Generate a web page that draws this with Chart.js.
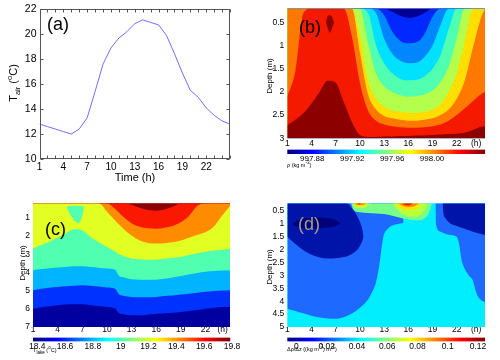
<!DOCTYPE html>
<html><head><meta charset="utf-8">
<script src="https://cdn.jsdelivr.net/npm/chart.js@4.4.0/dist/chart.umd.min.js"></script>
<style>
html,body{margin:0;padding:0;background:#fff;}
#wrap{position:relative;width:500px;height:360px;overflow:hidden;font-family:"Liberation Sans",Arial,sans-serif;}
canvas{position:absolute;left:0;top:0;}
.t{position:absolute;white-space:nowrap;color:#000;line-height:1;}
.r{transform:translate(-50%,-50%) rotate(-90deg);}
sub,sup{line-height:0;}
</style></head><body><div id="wrap">
<canvas id="ca" width="500" height="360"></canvas>
<canvas id="cb" width="500" height="360"></canvas>
<canvas id="cc" width="500" height="360"></canvas>
<canvas id="cd" width="500" height="360"></canvas>
<canvas id="kb" width="500" height="360"></canvas>
<canvas id="kc" width="500" height="360"></canvas>
<canvas id="kd" width="500" height="360"></canvas>

<div class="t" style="left:47px;top:15px;font-size:18px">(a)</div>
<div class="t" style="left:299px;top:18px;font-size:18px">(b)</div>
<div class="t" style="left:45px;top:220px;font-size:18px">(c)</div>
<div class="t" style="left:298px;top:215px;font-size:18px;color:#a39c86">(d)</div>

<div class="t" style="left:135px;top:177px;font-size:11px;transform:translate(-50%,-50%)">Time (h)</div>
<div class="t r" style="left:13px;top:83px;font-size:11px">T<sub style="font-size:7.5px">air</sub> (<sup style="font-size:7.5px">o</sup>C)</div>
<div class="t r" style="left:270px;top:76px;font-size:8px">Depth (m)</div>
<div class="t r" style="left:23px;top:263px;font-size:8px">Depth (m)</div>
<div class="t r" style="left:270px;top:267px;font-size:8px">Depth (m)</div>

<div class="t" style="left:287px;top:163px;font-size:5.5px">ρ (kg m<sup>-3</sup>)</div>
<div class="t" style="left:33px;top:348px;font-size:5.5px">T<sub>lake</sub> (<sup>o</sup>C)</div>
<div class="t" style="left:287px;top:347px;font-size:5.5px">Δρ/Δz ((kg m<sup>-3</sup>) m<sup>-1</sup>)</div>
</div>
<script>
// ================= DATA =================
// (a) air temperature
const hoursA = [1,2,3,4,5,6,7,8,9,10,11,12,13,14,15,16,17,18,19,20,21,22,23,24,25];
const airTemp = [12.8,12.6,12.4,12.2,12.0,12.4,13.3,15.4,17.6,18.9,19.7,20.2,20.85,21.15,20.95,20.75,19.9,18.45,16.9,15.5,14.95,14.1,13.5,13.05,12.8];

// (b) density: depth (m) of each colour-band boundary per hour
const hoursB = [1,2,3,4,5,6,7,8,9,10,11,12,13,14,15,16,17,18,19,20,21,22,23,24,25,25.5];
const rhoB1 = [0.2,0.2,0.2,0.2,0.2,0.2,0.2,0.2,0.2,0.2,0.2,0.2,0.2,0.27,0.36,0.4,0.38,0.3,0.2,0.2,0.2,0.2,0.2,0.2,0.2,0.2];
const rhoB2 = [0.2,0.2,0.2,0.2,0.2,0.2,0.2,0.2,0.2,0.2,0.2,0.2,0.35,0.7,0.9,0.95,0.93,0.75,0.38,0.2,0.2,0.2,0.2,0.2,0.2,0.2];
const rhoB3 = [0.2,0.2,0.2,0.2,0.2,0.2,0.2,0.2,0.2,0.2,0.2,0.3,0.85,1.18,1.33,1.38,1.37,1.25,1.0,0.55,0.2,0.2,0.2,0.2,0.2,0.2];
const rhoB4 = [0.2,0.2,0.2,0.2,0.2,0.2,0.2,0.2,0.2,0.2,0.3,1.0,1.38,1.6,1.72,1.75,1.74,1.66,1.5,1.2,0.65,0.2,0.2,0.2,0.2,0.2];
const rhoB5 = [0.2,0.2,0.2,0.2,0.2,0.2,0.2,0.2,0.2,0.2,0.95,1.6,1.88,2.0,2.07,2.1,2.09,2.05,1.97,1.78,1.45,0.85,0.2,0.2,0.2,0.2];
const rhoB6 = [0.2,0.2,0.2,0.2,0.2,0.2,0.2,0.2,0.2,0.8,1.75,2.15,2.32,2.4,2.43,2.45,2.45,2.43,2.38,2.26,2.0,1.6,0.9,0.2,0.2,0.2];
const rhoB7 = [0.2,0.2,0.2,0.2,0.2,0.2,0.2,0.2,0.2,1.15,2.05,2.38,2.52,2.57,2.6,2.62,2.62,2.6,2.57,2.5,2.38,2.15,1.75,1.05,0.4,0.2];
const rhoB8 = [2.1,1.55,0.3,0.2,0.2,0.2,0.2,0.2,0.8,1.8,2.4,2.62,2.7,2.74,2.76,2.77,2.77,2.76,2.74,2.7,2.62,2.5,2.35,2.2,2.05,2.0];
const rhoB9 = [2.72,2.6,2.46,2.25,2.0,1.76,1.8,2.22,2.65,2.93,2.97,2.97,2.96,2.96,2.95,2.95,2.94,2.94,2.93,2.92,2.91,2.9,2.88,2.82,2.75,2.74];
const blobBHours = [5.8,6.0,6.3,6.6,6.8];
const blobBTop = [0.5,0.37,0.35,0.4,0.5];
const blobBBottom = [0.5,0.62,0.72,0.6,0.5];

// (c) lake temperature band boundaries (depth, m)
const hoursC = [1,2,3,4,5,6,7,8,9,10,11,11.5,12,13,14,15,16,17,18,19,20,21,22,23,24,25];
const tempC1 = [0.2,0.2,0.2,0.2,0.2,0.2,0.2,0.2,0.2,0.2,0.2,0.2,0.2,0.28,0.45,0.57,0.61,0.55,0.4,0.2,0.2,0.2,0.2,0.2,0.2,0.2];
const tempC2 = [0.2,0.2,0.2,0.2,0.2,0.2,0.2,0.2,0.2,0.2,0.5,0.72,0.95,1.3,1.5,1.58,1.6,1.55,1.45,1.25,0.9,0.35,0.2,0.2,0.2,0.2];
const tempC3 = [0.2,0.2,0.2,0.2,0.2,0.2,0.2,0.2,0.2,0.65,1.15,1.38,1.6,1.98,2.25,2.38,2.42,2.4,2.35,2.25,2.1,1.95,1.8,1.5,0.9,0.35];
const tempC4 = [2.69,2.5,2.32,2.1,1.86,1.63,1.68,2.05,2.35,2.6,2.85,3.0,3.1,3.24,3.28,3.3,3.3,3.25,3.2,3.15,3.05,2.95,2.87,2.8,2.75,2.72];
const tempC5 = [3.88,3.82,3.77,3.73,3.7,3.67,3.66,3.7,3.74,3.79,3.85,4.2,4.27,4.38,4.4,4.4,4.4,4.35,4.28,4.2,4.12,4.04,3.97,3.93,3.9,3.88];
const tempC6 = [4.98,4.9,4.84,4.8,4.76,4.73,4.7,4.73,4.78,4.83,4.9,5.22,5.28,5.35,5.37,5.37,5.35,5.3,5.27,5.22,5.17,5.12,5.07,5.02,5.0,4.98];
const tempC7 = [6.0,5.92,5.86,5.8,5.77,5.75,5.75,5.8,5.85,5.9,5.98,6.25,6.3,6.36,6.36,6.33,6.27,6.25,6.22,6.17,6.12,6.07,6.0,5.95,5.9,5.9];
const blobCHours = [5.1,5.4,5.8,6.2,6.5,6.8,7.1,7.2];
const blobCTop = [0.4,0.36,0.36,0.36,0.36,0.36,0.37,0.4];
const blobCBottom = [0.4,0.7,1.0,1.22,1.3,1.15,0.7,0.4];

// (d) stratification regions (depth, m)
const hoursDL = [1,2,3,4,5,6,7,8,9,10,11,11.5,12,12.4,12.7,12.9,13.3,14,15,15.4];
const gradBlueLeft = [4.29,4.38,4.47,4.56,4.63,4.67,4.68,4.62,4.48,4.25,3.93,3.65,3.25,2.6,1.9,1.5,1.24,1.06,0.98,0.95];
const hoursDR = [19.35,19.45,20,21,22,22.3,22.6,23,23.5,24,24.3,24.7,25.5];
const gradBlueRight = [0.2,1.05,1.3,1.42,1.5,1.8,2.4,2.75,3.0,3.2,3.55,3.85,4.05];
const hoursNL = [1,2,3,4,5,6,7,8,8.4,9,9.5,9.8,10.1,10.3,10.45];
const gradNavyTop = [0.2,0.2,0.2,0.2,0.2,0.2,0.2,0.2,0.2,0.4,0.6,0.78,1.0,1.2,1.5];
const gradNavyBottom = [1.5,1.78,2.02,2.2,2.3,2.34,2.33,2.28,2.25,2.17,2.05,1.95,1.8,1.65,1.5];
const hoursNC = [1.6,2.2,3,4,5,6,7,7.6];
const gradCoreTop = [1.0,0.88,0.8,0.76,0.75,0.78,0.86,0.98];
const gradCoreBottom = [1.0,1.1,1.16,1.18,1.17,1.14,1.08,0.98];
const hoursNR = [20.25,20.35,20.6,21.2,22,22.8,24,25.5];
const gradNavyRight = [0.2,0.6,0.78,0.98,1.08,1.17,1.3,1.43];
const hoursG = [8.9,9.2,10,11,12,13,14,15,16,17,18,18.6,18.9];
const gradGreen = [0.2,0.45,0.55,0.58,0.6,0.62,0.68,0.76,0.83,0.86,0.78,0.55,0.2];
const hoursYG1 = [9.1,9.5,10.5,11.3];   const gradYG1 = [0.2,0.38,0.38,0.2];
const hoursYG2 = [14.0,15,16,17,17.8,18.4]; const gradYG2 = [0.2,0.55,0.7,0.72,0.55,0.2];
const hoursY1 = [9.2,9.6,10.4,11.0];    const gradY1 = [0.2,0.3,0.3,0.2];
const hoursY2 = [14.4,15,16,17,17.6];   const gradY2 = [0.2,0.38,0.45,0.4,0.2];
const hoursO1 = [9.3,9.7,10.3,10.8];    const gradO1 = [0.2,0.27,0.27,0.2];
const hoursO2 = [14.8,15.3,16,16.8,17.3]; const gradO2 = [0.2,0.3,0.34,0.3,0.2];
const hoursR1 = [9.6,9.9,10.2];         const gradR1 = [0.2,0.24,0.2];
const hoursR2 = [15.2,15.6,16.1,16.6];  const gradR2 = [0.2,0.27,0.28,0.2];

// ticks
const timeTicks = [1,4,7,10,13,16,19,22];
const tempTicksA = [10,12,14,16,18,20,22];
const depthTicksB = [0.5,1,1.5,2,2.5,3];
const depthTicksC = [1,2,3,4,5,6,7];
const depthTicksD = [0.5,1,1.5,2,2.5,3,3.5,4,4.5,5];
const cbRangeB = [997.855, 998.053];
const cbTicksB = [997.88, 997.92, 997.96, 998.00];
const cbLabelsB = ['997.88','997.92','997.96','998.00'];
const cbRangeC = [18.37, 19.785];
const cbTicksC = [18.4,18.6,18.8,19.0,19.2,19.4,19.6,19.8];
const cbLabelsC = ['18.4','18.6','18.8','19','19.2','19.4','19.6','19.8'];
const cbRangeD = [-0.006, 0.1246];
const cbTicksD = [0,0.02,0.04,0.06,0.08,0.10,0.12];
const cbLabelsD = ['0','0.02','0.04','0.06','0.08','0.1','0.12'];

// ================= STYLE / HELPERS =================
const W = 500, H = 360;
Chart.defaults.font.family = '"Liberation Sans", Arial, sans-serif';
Chart.defaults.color = '#000';
function jet(t){const c=v=>Math.round(255*Math.max(0,Math.min(1,v)));return `rgb(${c(1.5-Math.abs(4*t-3))},${c(1.5-Math.abs(4*t-2))},${c(1.5-Math.abs(4*t-1))})`;}
const pts = (xs, ys) => xs.map((x,i)=>({x, y: ys[i]}));
const noGrid = {display:false, drawTicks:false};

const areaBg = { id:'areaBg', beforeDatasetsDraw(chart, args, opts){ if(!opts||!opts.color) return; const {ctx, chartArea:a}=chart; ctx.save(); ctx.fillStyle=opts.color; ctx.fillRect(a.left,a.top,a.right-a.left,a.bottom-a.top); ctx.restore(); } };
const frame = { id:'frame', afterDatasetsDraw(chart, args, opts){ if(!opts||!opts.on) return; const {ctx, chartArea:a, scales}=chart; ctx.save(); ctx.strokeStyle=opts.color; ctx.lineWidth=1;
  const L=Math.round(a.left)+0.5, R=Math.round(a.right)-0.5, T=Math.round(a.top)+0.5, B=Math.round(a.bottom)-0.5;
  ctx.strokeRect(L,T,R-L,B-T); ctx.beginPath();
  scales.x.ticks.forEach(t=>{const p=Math.round(scales.x.getPixelForValue(t.value))+0.5; ctx.moveTo(p,B); ctx.lineTo(p,B-opts.len); ctx.moveTo(p,T); ctx.lineTo(p,T+opts.len);});
  scales.y.ticks.forEach(t=>{const p=Math.round(scales.y.getPixelForValue(t.value))+0.5; ctx.moveTo(L,p); ctx.lineTo(L+opts.len,p); ctx.moveTo(R,p); ctx.lineTo(R-opts.len,p);});
  ctx.stroke(); ctx.restore(); } };

function pad(rect, yW, xH){ return {left: rect.l - yW, right: W - rect.r, top: rect.t, bottom: H - rect.b - xH}; }

// layer builders
function layers(){ const ds=[]; let layer=0;
  return { ds,
    toBottom(xs,ys,color){ ds.push({data:pts(xs,ys), fill:'start', backgroundColor:color, _l:layer++}); },
    toTop(xs,ys,color){ ds.push({data:pts(xs,ys), fill:'end', backgroundColor:color, _l:layer++}); },
    between(xs,top,bot,color){ ds.push({data:pts(xs,top), fill:false, _l:layer}); ds.push({data:pts(xs,bot), fill:'-1', backgroundColor:color, _l:layer}); layer++; },
    done(){ const n=layer; ds.forEach(d=>{ d.order = n - d._l; d.borderWidth=0; d.borderColor='rgba(0,0,0,0)'; d.pointRadius=0; d.cubicInterpolationMode='monotone'; }); return ds; } };
}

function contourChart(id, rect, xMax, yMax, yTicks, hTick, bg, datasets, tickPadX){
  return new Chart(document.getElementById(id), {
    type:'line', data:{datasets},
    options:{ responsive:false, animation:false, events:[],
      layout:{padding:pad(rect,30,30)},
      plugins:{legend:{display:false}, tooltip:{enabled:false}, areaBg:{color:bg}},
      scales:{
        x:{type:'linear', min:1, max:xMax,
           afterBuildTicks:s=>{ s.ticks = timeTicks.concat([hTick]).map(v=>({value:v})); },
           afterFit:s=>{ s.height=30; },
           ticks:{autoSkip:false, maxRotation:0, padding:tickPadX, font:{size:8.5}, callback:v=> v>23 ? '(h)' : String(v)},
           grid:noGrid, border:{display:false}},
        y:{type:'linear', reverse:true, min:0.2, max:yMax,
           afterBuildTicks:s=>{ s.ticks = yTicks.map(v=>({value:v})); },
           afterFit:s=>{ s.width=30; },
           ticks:{padding:3, font:{size:8.5}, callback:v=>String(v)},
           grid:noGrid, border:{display:false}}
      } },
    plugins:[areaBg] });
}

function colorbar(id, rect, range, axMax, ticks, labels, fs){
  new Chart(document.getElementById(id), {
    type:'bar',
    data:{labels:['c'], datasets:[{data:[[range[0],range[1]]], borderWidth:0, barPercentage:1, categoryPercentage:1,
      backgroundColor:(ctx)=>{ const ch=ctx.chart; if(!ch.chartArea) return jet(0.5); const xs=ch.scales.x;
        const g=ch.ctx.createLinearGradient(xs.getPixelForValue(range[0]),0,xs.getPixelForValue(range[1]),0);
        for(let i=0;i<=40;i++) g.addColorStop(i/40, jet(i/40)); return g; } }]},
    options:{ indexAxis:'y', responsive:false, animation:false, events:[],
      layout:{padding:{left:rect.l, right:W-rect.r, top:rect.t, bottom:H-rect.b-20}},
      plugins:{legend:{display:false}, tooltip:{enabled:false}},
      scales:{ y:{display:false},
        x:{type:'linear', min:range[0], max:axMax,
           afterBuildTicks:s=>{ s.ticks = ticks.map(v=>({value:v})); },
           afterFit:s=>{ s.height=20; },
           ticks:{autoSkip:false, maxRotation:0, padding:0, font:{size:fs}, callback:(v,i)=>labels[i]},
           grid:noGrid, border:{display:false}} } } });
}

// ================= PANEL (a) =================
new Chart(document.getElementById('ca'), {
  type:'line',
  data:{datasets:[{data:pts(hoursA, airTemp), borderColor:'rgb(112,112,255)', borderWidth:1, pointRadius:0, tension:0, fill:false}]},
  options:{ responsive:false, animation:false, events:[],
    layout:{padding:pad({l:39.5,t:7,r:230,b:159},30,30)},
    plugins:{legend:{display:false}, tooltip:{enabled:false}, frame:{on:true, color:'#555', len:3}},
    scales:{
      x:{type:'linear', min:1, max:25,
         afterBuildTicks:s=>{ s.ticks = hoursA.map(v=>({value:v})); },
         afterFit:s=>{ s.height=30; },
         ticks:{autoSkip:false, maxRotation:0, padding:2, font:{size:10}, callback:v=> timeTicks.includes(v) ? String(v) : ''},
         grid:noGrid, border:{display:false}},
      y:{type:'linear', min:10, max:22,
         afterBuildTicks:s=>{ s.ticks = tempTicksA.map(v=>({value:v})); },
         afterFit:s=>{ s.width=30; },
         ticks:{padding:3, font:{size:10.5}, callback:v=>String(v)},
         grid:noGrid, border:{display:false}}
    } },
  plugins:[frame] });

// ================= PANEL (b) =================
const colB = ['rgb(0,0,150)','rgb(0,40,255)','rgb(0,135,255)','rgb(0,225,255)','rgb(80,255,175)','rgb(180,255,75)','rgb(255,222,0)','rgb(255,120,0)','rgb(245,25,0)','rgb(140,0,0)'];
{
  const L = layers();
  [rhoB1,rhoB2,rhoB3,rhoB4,rhoB5,rhoB6,rhoB7,rhoB8,rhoB9].forEach((arr,i)=>L.toBottom(hoursB, arr, colB[i+1]));
  L.between(blobBHours, blobBTop, blobBBottom, colB[9]);
  contourChart('cb', {l:287.3,t:8.4,r:485,b:138.3}, 25.5, 3, depthTicksB, 24.4, colB[0], L.done(), 0);
}

// ================= PANEL (c) =================
const colC = ['rgb(140,0,0)','rgb(250,25,0)','rgb(255,140,0)','rgb(225,255,35)','rgb(80,255,175)','rgb(0,180,255)','rgb(0,50,255)','rgb(0,0,160)'];
{
  const L = layers();
  [tempC1,tempC2,tempC3,tempC4,tempC5,tempC6,tempC7].forEach((arr,i)=>L.toBottom(hoursC, arr, colC[i+1]));
  L.between(blobCHours, blobCTop, blobCBottom, colC[4]);
  contourChart('cc', {l:33,t:203.2,r:230,b:327}, 25, 7, depthTicksC, 24.1, colC[0], L.done(), -2);
}

// ================= PANEL (d) =================
const colD = {cyan:'rgb(0,238,255)', blue:'rgb(30,105,255)', navy:'rgb(0,20,170)', core:'rgb(0,0,120)', green:'rgb(120,255,135)', yg:'rgb(190,255,60)', yellow:'rgb(255,225,0)', orange:'rgb(255,130,0)', red:'rgb(230,20,0)'};
{
  const L = layers();
  L.toTop(hoursDL, gradBlueLeft, colD.blue);
  L.toTop(hoursDR, gradBlueRight, colD.blue);
  L.between(hoursNL, gradNavyTop, gradNavyBottom, colD.navy);
  L.between(hoursNC, gradCoreTop, gradCoreBottom, colD.core);
  L.toTop(hoursNR, gradNavyRight, colD.navy);
  L.toTop(hoursG, gradGreen, colD.green);
  L.toTop(hoursYG1, gradYG1, colD.yg);
  L.toTop(hoursYG2, gradYG2, colD.yg);
  L.toTop(hoursY1, gradY1, colD.yellow);
  L.toTop(hoursY2, gradY2, colD.yellow);
  L.toTop(hoursO1, gradO1, colD.orange);
  L.toTop(hoursO2, gradO2, colD.orange);
  L.toTop(hoursR1, gradR1, colD.red);
  L.toTop(hoursR2, gradR2, colD.red);
  contourChart('cd', {l:287.3,t:203.3,r:485,b:327}, 25.5, 5, depthTicksD, 24.4, colD.cyan, L.done(), -2);
}

// ================= COLORBARS =================
colorbar('kb', {l:287.3,t:149.5,r:485,b:154}, cbRangeB, cbRangeB[1], cbTicksB, cbLabelsB, 8);
colorbar('kc', {l:33,t:337.5,r:232,b:341.5}, cbRangeC, 19.8, cbTicksC, cbLabelsC, 8.5);
colorbar('kd', {l:287.3,t:337.5,r:485,b:341.5}, cbRangeD, cbRangeD[1], cbTicksD, cbLabelsD, 8.5);
</script></body></html>
